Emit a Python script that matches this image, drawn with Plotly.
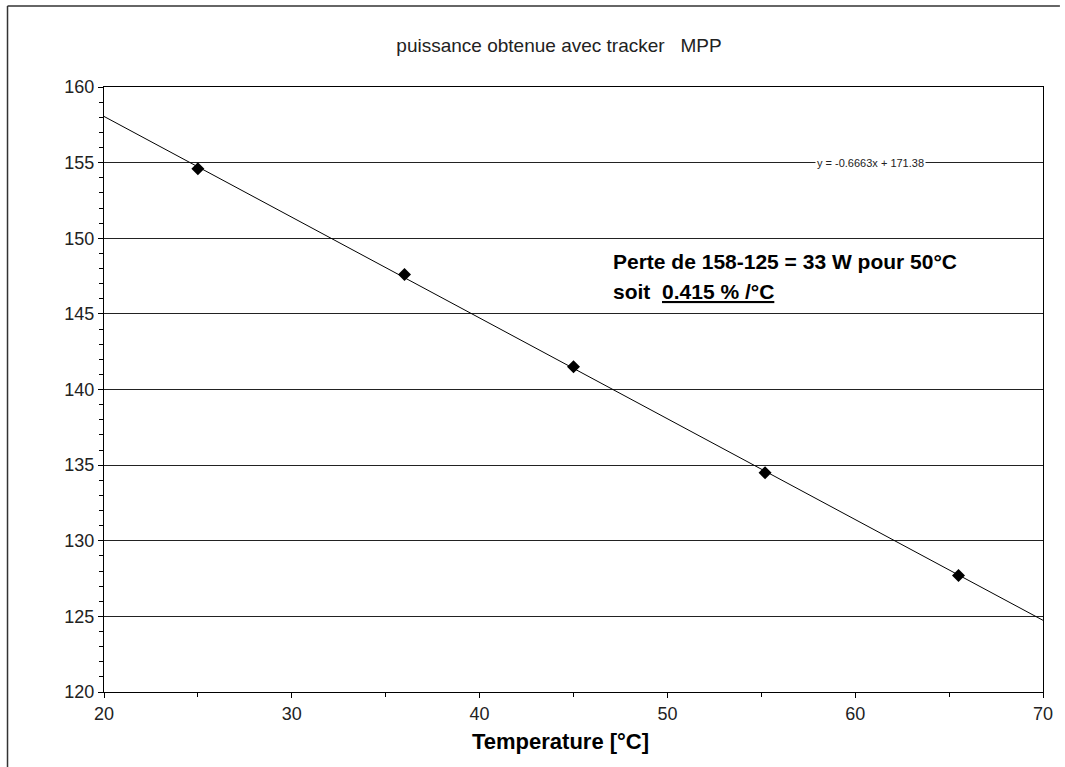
import plotly.graph_objects as go

# Data
temperature = [25.0, 36.0, 45.0, 55.2, 65.5]
power = [154.6, 147.6, 141.5, 134.5, 127.7]
trend_slope = -0.6663
trend_intercept = 171.38
trend_x = [20, 70]
trend_y = [trend_slope * x + trend_intercept for x in trend_x]

x_ticks = [20, 30, 40, 50, 60, 70]
y_ticks = [120, 125, 130, 135, 140, 145, 150, 155, 160]

FONT = "Liberation Sans, Arial, sans-serif"

fig = go.Figure()
fig.add_trace(go.Scatter(x=trend_x, y=trend_y, mode="lines",
                         line=dict(color="black", width=1), hoverinfo="skip",
                         showlegend=False))
fig.add_trace(go.Scatter(x=temperature, y=power, mode="markers",
                         marker=dict(symbol="diamond", size=10, color="black"),
                         showlegend=False))

fig.update_layout(
    width=1065, height=767,
    margin=dict(l=104, r=17, t=87, b=75),
    paper_bgcolor="white", plot_bgcolor="white",
    title=dict(text="puissance obtenue avec tracker\u00a0\u00a0\u00a0MPP",
               x=(559 / 1065), xanchor="center", y=1 - 45 / 767, yanchor="middle",
               font=dict(family=FONT, size=19, color="#222")),
    font=dict(family=FONT, color="#222"),
)

fig.update_xaxes(
    range=[20, 70], tickvals=x_ticks, ticks="outside", ticklen=5, tickcolor="black",
    showline=True, linecolor="black", linewidth=1, mirror=True,
    showgrid=False, zeroline=False,
    tickfont=dict(size=18, family=FONT, color="#222"),
    minor=dict(dtick=5, tick0=20, ticks="outside", ticklen=4, tickcolor="black", showgrid=False),
)
fig.update_yaxes(
    range=[120, 160], tickvals=y_ticks, ticks="outside", ticklen=5, tickcolor="black",
    showline=True, linecolor="black", linewidth=1, mirror=True,
    showgrid=True, gridcolor="#222", gridwidth=1, zeroline=False,
    tickfont=dict(size=18, family=FONT, color="#222"),
    minor=dict(dtick=1, tick0=120, ticks="outside", ticklen=4, tickcolor="black", showgrid=False),
)

# x-axis title
fig.add_annotation(x=(563 - 104) / 944, y=(692 - 741) / 605, xref="paper", yref="paper",
                   text="<b>Temperature [°C]</b>", showarrow=False, yanchor="middle",
                   font=dict(size=22, family=FONT, color="black"))

fig.add_annotation(x=60.8, y=155, xref="x", yref="y",
                   text="y = -0.6663x + 171.38", showarrow=False,
                   font=dict(size=11, family=FONT, color="#222"),
                   bgcolor="white", borderpad=1)
fig.add_annotation(x=47.0, y=148.45, xref="x", yref="y", xanchor="left",
                   text="<b>Perte de 158-125 = 33 W pour 50°C</b>", showarrow=False,
                   font=dict(size=21, family=FONT, color="black"))
fig.add_annotation(x=47.0, y=146.45, xref="x", yref="y", xanchor="left",
                   text="<b>soit\u00a0\u00a0<u>0.415 % /°C</u></b>", showarrow=False,
                   font=dict(size=21, family=FONT, color="black"))

# Outer chart frame (top and left edges visible)
fig.add_shape(type="line", xref="paper", yref="paper",
              x0=(7 - 104) / 944, x1=(1065 - 104) / 944,
              y0=(692 - 6) / 605, y1=(692 - 6) / 605,
              line=dict(color="#333", width=1.5))
fig.add_shape(type="line", xref="paper", yref="paper",
              x0=(7 - 104) / 944, x1=(7 - 104) / 944,
              y0=(692 - 6) / 605, y1=(692 - 767) / 605,
              line=dict(color="#333", width=1.5))

fig.write_html("out.html", config={"displayModeBar": False},
               post_script="document.body.style.margin='0';document.body.style.overflow='hidden';")
